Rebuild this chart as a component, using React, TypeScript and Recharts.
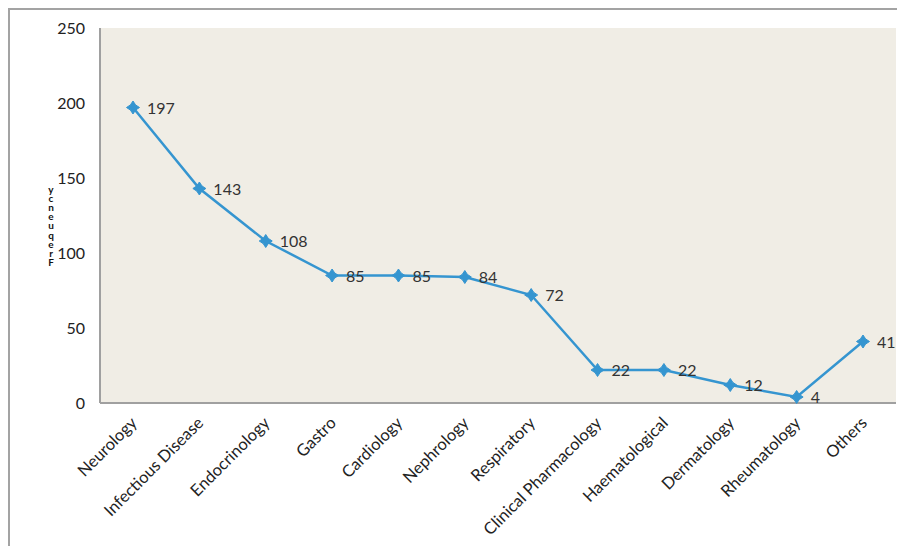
import React from 'react';
import { LineChart, Line, XAxis, YAxis, CartesianGrid, LabelList } from 'recharts';

const specialties = [
    'Neurology',
    'Infectious Disease',
    'Endocrinology',
    'Gastro',
    'Cardiology',
    'Nephrology',
    'Respiratory',
    'Clinical Pharmacology',
    'Haematological',
    'Dermatology',
    'Rheumatology',
    'Others',
];
const frequencies = [197, 143, 108, 85, 85, 84, 72, 22, 22, 12, 4, 41];
const yTicks = [0, 50, 100, 150, 200, 250];

const data = specialties.map((name, i) => ({ name, value: frequencies[i] }));

const FONT = 'Lato, "Open Sans", sans-serif';

const StarDot = (props: any) => {
    const { cx, cy } = props;
    if (cx == null || cy == null) return null;
    const r = 6.5;
    const s = 2.6;
    const d = `M${cx},${cy - r} L${cx + s},${cy - s} L${cx + r},${cy} L${cx + s},${cy + s} L${cx},${cy + r} L${cx - s},${cy + s} L${cx - r},${cy} L${cx - s},${cy - s} Z`;
    return <path d={d} fill="#3595d0" stroke="#3595d0" strokeWidth={1} />;
};

const AngledTick = (props: any) => {
    const { x, y, payload } = props;
    return (
        <g transform={`translate(${x + 5},${y + 13})`}>
            <text
                x={0}
                y={0}
                textAnchor="end"
                transform="rotate(-45)"
                fill="#222"
                fontSize={16.5}
                fontFamily={FONT}
            >
                {payload.value}
            </text>
        </g>
    );
};

const ValueLabel = (props: any) => {
    const { x, y, value } = props;
    return (
        <text x={x + 14} y={y + 6} fill="#333" fontSize={16} fontFamily={FONT}>
            {value}
        </text>
    );
};

// the original title came out as stacked, reversed letters
const StackedTitle = () => {
    const letters = 'Frequency'.split('').reverse();
    return (
        <text fontSize={10} fontWeight="bold" fill="#111" fontFamily={FONT} textAnchor="middle">
            {letters.map((ch, i) => (
                <tspan key={i} x={41} y={183 + i * 9.1}>
                    {ch}
                </tspan>
            ))}
        </text>
    );
};

export default function App() {
    return (
        <div
            style={{
                width: 897,
                height: 538,
                borderTop: '2px solid #a3a3a3',
                borderLeft: '2px solid #a3a3a3',
                overflow: 'hidden',
            }}
        >
            <LineChart
                width={895}
                height={536}
                data={data}
                margin={{ top: 18, right: 9, left: 0, bottom: 0 }}
            >
                <CartesianGrid fill="#f0ede5" horizontal={false} vertical={false} />
                <XAxis
                    dataKey="name"
                    interval={0}
                    height={143}
                    padding={{ left: 33, right: 33 }}
                    tickLine={false}
                    axisLine={{ stroke: '#a0a0a0', strokeWidth: 2 }}
                    tick={<AngledTick />}
                />
                <YAxis
                    width={90}
                    domain={[0, 250]}
                    ticks={yTicks}
                    tickLine={false}
                    tickSize={6}
                    tickMargin={9}
                    axisLine={{ stroke: '#a0a0a0', strokeWidth: 2 }}
                    tick={{ fill: '#222', fontSize: 16, fontFamily: FONT }}
                />
                <Line
                    type="linear"
                    dataKey="value"
                    stroke="#3595d0"
                    strokeWidth={2.5}
                    dot={<StarDot />}
                    activeDot={false}
                    isAnimationActive={false}
                >
                    <LabelList dataKey="value" content={<ValueLabel />} />
                </Line>
                <StackedTitle />
            </LineChart>
        </div>
    );
}
